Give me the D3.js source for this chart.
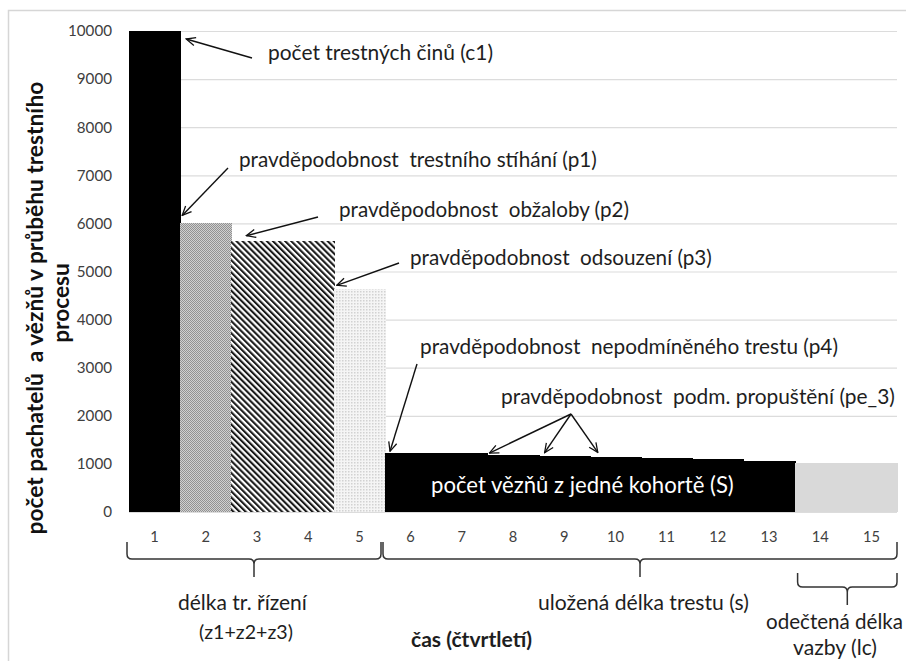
<!DOCTYPE html>
<html><head><meta charset="utf-8">
<script src="https://cdn.jsdelivr.net/npm/d3@7"></script>
<style>
html,body{margin:0;padding:0;background:#fff;}
svg{display:block;}
text{font-family:Lato,"Open Sans",sans-serif;}
</style></head>
<body>
<svg id="chart" width="906" height="661"></svg>
<script>
// ---- data ----
const categories = ["1","2","3","4","5","6","7","8","9","10","11","12","13","14","15"];
const values = [10000, 6000, 5640, 5640, 4630, 1220, 1220, 1184, 1170, 1136, 1116, 1095, 1066, 1024, 1024];
const phases = ["c1","p1","p2","p2","p3","S","S","S","S","S","S","S","S","lc","lc"];
const yTicks = [0,1000,2000,3000,4000,5000,6000,7000,8000,9000,10000];
const annotations = [
  "počet trestných činů (c1)",
  "pravděpodobnost  trestního stíhání (p1)",
  "pravděpodobnost  obžaloby (p2)",
  "pravděpodobnost  odsouzení (p3)",
  "pravděpodobnost  nepodmíněného trestu (p4)",
  "pravděpodobnost  podm. propuštění (pe_3)"
];
const innerLabel = "počet vězňů z jedné kohortě (S)";
const braceLabels = [["délka tr. řízení","(z1+z2+z3)"],["uložená délka trestu (s)"],["odečtená délka","vazby (lc)"]];
const yTitle = ["počet pachatelů  a vězňů v průběhu trestního","procesu"];
const xTitle = "čas (čtvrtletí)";

// ---- layout ----
const svg = d3.select("#chart");
const L = 129, R = 897, T = 31, B = 512;
const x = d3.scaleBand().domain(categories).range([L, R]).padding(0);
const y = d3.scaleLinear().domain([0, 10000]).range([B, T]);
const bw = x.bandwidth();

// fit a text node's font size so its rendered width equals w
function fit(sel, w){
  const n = sel.node();
  const fs = parseFloat(sel.attr("font-size"));
  const len = n.getComputedTextLength();
  if (len > 0) sel.attr("font-size", (fs*w/len).toFixed(2));
  return sel;
}

// border
svg.append("rect").attr("x",8.5).attr("y",10.5).attr("width",1000).attr("height",1000)
  .attr("fill","none").attr("stroke","#d6d6d6").attr("stroke-width",1.5);

// patterns
const defs = svg.append("defs");
const pDots = defs.append("pattern").attr("id","pDots").attr("patternUnits","userSpaceOnUse").attr("width",2).attr("height",2);
pDots.append("rect").attr("width",2).attr("height",2).attr("fill","#d0d0d0");
pDots.append("rect").attr("x",0).attr("y",0).attr("width",1).attr("height",1).attr("fill","#929292");
pDots.append("rect").attr("x",1).attr("y",1).attr("width",1).attr("height",1).attr("fill","#929292");
const pStr = defs.append("pattern").attr("id","pStripes").attr("patternUnits","userSpaceOnUse")
  .attr("width",4.3).attr("height",10).attr("patternTransform","rotate(-45)");
pStr.append("rect").attr("width",4.3).attr("height",10).attr("fill","#ffffff");
pStr.append("rect").attr("x",0).attr("y",0).attr("width",2.1).attr("height",10).attr("fill","#1a1a1a");
const pLight = defs.append("pattern").attr("id","pLight").attr("patternUnits","userSpaceOnUse").attr("width",3).attr("height",3);
pLight.append("rect").attr("width",3).attr("height",3).attr("fill","#f5f5f5");
pLight.append("rect").attr("x",0).attr("y",0).attr("width",1.5).attr("height",1.5).attr("fill","#d2d2d2");

const fillFor = {c1:"#000000", p1:"url(#pDots)", p2:"url(#pStripes)", p3:"url(#pLight)", S:"#000000", lc:"#d9d9d9"};

// gridlines
svg.append("g").selectAll("line").data(yTicks).join("line")
  .attr("x1",L).attr("x2",R).attr("y1",d=>y(d)+0.5).attr("y2",d=>y(d)+0.5)
  .attr("stroke","#dcdcdc").attr("stroke-width",1.2);

// bars
svg.append("g").attr("shape-rendering","crispEdges").selectAll("rect").data(categories).join("rect")
  .attr("x",d=>x(d)).attr("width",bw+1)
  .attr("y",(d,i)=>y(values[i])).attr("height",(d,i)=>y(0)-y(values[i]))
  .attr("fill",(d,i)=>fillFor[phases[i]]);

// axes
const yAxis = svg.append("g").attr("transform",`translate(${L-17},0)`)
  .call(d3.axisLeft(y).tickValues(yTicks).tickSize(0).tickPadding(0).tickFormat(d3.format("d")));
yAxis.select(".domain").remove();
yAxis.selectAll("text").attr("font-size",15).attr("fill","#404040");
{
  const t = yAxis.selectAll("text").filter(d=>d===10000);
  fit(t,44);
  yAxis.selectAll("text").attr("font-size", t.attr("font-size"));
}

const xAxis = svg.append("g").attr("transform",`translate(0,${B})`)
  .call(d3.axisBottom(x).tickSize(0).tickPadding(20));
xAxis.select(".domain").remove();
xAxis.selectAll("text").attr("font-size",15).attr("fill","#404040");
{
  const t = xAxis.selectAll("text").filter(d=>d==="10");
  fit(t,17);
  xAxis.selectAll("text").attr("font-size", t.attr("font-size"));
}

// arrows
defs.append("marker").attr("id","arr").attr("viewBox","0 0 12 12").attr("refX",11).attr("refY",6)
  .attr("markerWidth",11).attr("markerHeight",11).attr("markerUnits","userSpaceOnUse").attr("orient","auto")
  .append("path").attr("d","M1,1.5 L11,6 L1,10.5").attr("fill","none").attr("stroke","#111").attr("stroke-width",1.4);

function arrow(x1,y1,x2,y2){
  svg.append("line").attr("x1",x1).attr("y1",y1).attr("x2",x2).attr("y2",y2)
    .attr("stroke","#111").attr("stroke-width",1.4).attr("marker-end","url(#arr)");
}
function label(txt,x0,yc,w,opts={}){
  const t = svg.append("text").attr("x",x0).attr("y",yc).attr("dy","0.35em")
    .attr("font-size",18).attr("fill",opts.fill||"#1e1e1e")
    .attr("font-weight",opts.bold?"bold":"normal")
    .attr("text-anchor",opts.anchor||"start")
    .style("white-space","pre").text(txt);
  return fit(t,w);
}

const xr = c => x(c)+bw;      // right edge of a bar

// annotation 1 -> top of bar 1
label(annotations[0],268,53,225);
arrow(252,58, xr("1")+6, y(values[0])+8);
// annotation 2 -> bar 2 top-left
label(annotations[1],239,160,358);
arrow(228,168, x("2")+2, y(values[1])-8);
// annotation 3 -> bar 3 top
label(annotations[2],339,210,290);
arrow(318,217, x("3")+15, y(values[2])-5);
// annotation 4 -> bar 5 top-left
label(annotations[3],410,258,302);
arrow(399,263, x("5")+3, y(values[4])-4);
// annotation 5 -> bar 6 top-left
label(annotations[4],420,347,418);
arrow(417,364, x("6")+5, y(values[5])-2);
// annotation 6 -> three bars
label(annotations[5],501,397,394);
arrow(571,414, x("8")+2, y(values[7])-2);
arrow(571,414, x("9")+6, y(values[8])-3);
arrow(571,414, x("10")+8, y(values[9])-5);

// inner label
label(innerLabel,431,485,303,{fill:"#ffffff"});

// braces
function brace(x1,x2,yTop,yMid,yTip){
  const xc=(x1+x2)/2, r=5;
  const p = `M${x1},${yTop} L${x1},${yMid-r} Q${x1},${yMid} ${x1+r},${yMid} L${xc-r},${yMid} Q${xc},${yMid} ${xc},${yMid+r} L${xc},${yTip}
             M${xc},${yMid+r} Q${xc},${yMid} ${xc+r},${yMid} L${x2-r},${yMid} Q${x2},${yMid} ${x2},${yMid-r} L${x2},${yTop}`;
  svg.append("path").attr("d",p).attr("fill","none").attr("stroke","#333").attr("stroke-width",1.5);
}
brace(x("1")-2, xr("5")-4, 542, 559, 577);
brace(xr("5")-2, R, 542, 559, 577);
brace(x("14")+3, R, 573, 587, 605);

label(braceLabels[0][0],178,603,129);
label(braceLabels[0][1],199,632,94);
label(braceLabels[1][0],538,603,211);
label(braceLabels[2][0],766,622,137);
label(braceLabels[2][1],793,648,84);
label(xTitle,411,640,121,{bold:true});

// y title
const yt1 = svg.append("text").attr("transform","translate(35,308) rotate(-90)").attr("text-anchor","middle").attr("dy","0.35em")
  .attr("font-size",18).attr("font-weight","bold").attr("fill","#111").style("white-space","pre").text(yTitle[0]);
fit(yt1,453);
svg.append("text").attr("transform","translate(61,303) rotate(-90)").attr("text-anchor","middle").attr("dy","0.35em")
  .attr("font-size",yt1.attr("font-size")).attr("font-weight","bold").attr("fill","#111").text(yTitle[1]);
</script>
</body></html>
